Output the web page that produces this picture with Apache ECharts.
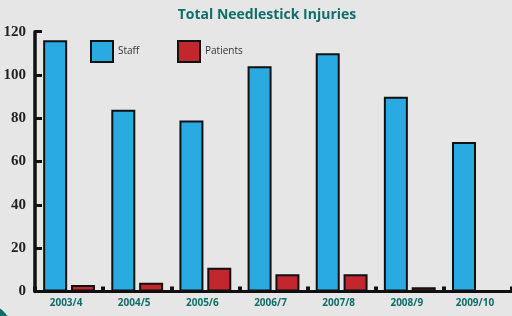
<!DOCTYPE html>
<html>
<head>
<meta charset="utf-8">
<title>Total Needlestick Injuries</title>
<script src="https://cdn.jsdelivr.net/npm/echarts@6/dist/echarts.min.js"></script>
<style>
    html, body { margin: 0; padding: 0; background: #e6e6e6; }
    #placeholder { width: 512px; height: 316px; }
</style>
</head>
<body>
<div id="placeholder"></div>
<script>
var years = ['2003/4', '2004/5', '2005/6', '2006/7', '2007/8', '2008/9', '2009/10'];
var staffData = [116, 84, 79, 104, 110, 90, 69];
var patientData = [3, 4, 11, 8, 8, 2, 0];
var yTicks = [0, 20, 40, 60, 80, 100, 120];

(function () {

    'use strict'

    var teal = '#0f6e69';
    var ink = '#111';

    var legendText = { color: '#333', fontFamily: 'Open Sans', fontSize: 10 };

    var myChart = echarts.init(document.getElementById('placeholder'));
    var option = {
        backgroundColor: '#e6e6e6',
        animation: false,
        title: {
            text: 'Total Needlestick Injuries',
            left: 262,
            textAlign: 'center',
            top: 3,
            textStyle: {
                color: teal,
                fontFamily: 'Open Sans',
                fontWeight: 'bold',
                fontSize: 14
            }
        },
        // two legends so each swatch sits where the original puts it
        legend: [{
            data: [{ name: 'Staff', icon: 'rect' }],
            left: 85,
            top: 35,
            itemWidth: 22,
            itemHeight: 21,
            textStyle: legendText
        }, {
            data: [{ name: 'Patients', icon: 'rect' }],
            left: 172,
            top: 35,
            itemWidth: 22,
            itemHeight: 21,
            textStyle: legendText
        }],
        grid: {
            left: 35,
            top: 31.7,
            bottom: 24.5,
            width: 484,
            containLabel: false
        },
        xAxis: {
            type: 'category',
            data: years,
            axisLine: { lineStyle: { color: ink, width: 3 } },
            axisTick: {
                show: true,
                inside: true,
                length: 5,
                lineStyle: { color: ink, width: 4 }
            },
            axisLabel: {
                color: teal,
                fontFamily: 'Open Sans',
                fontWeight: 'bold',
                fontSize: 10,
                margin: 7,
                interval: 0,
                padding: [0, 6, 0, 0]
            },
            splitLine: { show: false }
        },
        yAxis: {
            type: 'value',
            min: yTicks[0],
            max: yTicks[yTicks.length - 1],
            interval: 20,
            axisLine: { show: true, lineStyle: { color: ink, width: 3.5 } },
            axisTick: {
                show: true,
                inside: true,
                length: 7,
                lineStyle: { color: ink, width: 3 }
            },
            axisLabel: {
                color: '#231f20',
                fontFamily: 'Liberation Sans Narrow',
                fontWeight: 'bold',
                fontSize: 15,
                margin: 9
            },
            splitLine: { show: false }
        },
        series: [{
            name: 'Staff',
            type: 'bar',
            barWidth: 24,
            barGap: '16%',
            data: staffData,
            itemStyle: { color: '#29abe2', borderColor: ink, borderWidth: 2 }
        }, {
            name: 'Patients',
            type: 'bar',
            barWidth: 24,
            data: patientData,
            itemStyle: { color: '#c1272d', borderColor: ink, borderWidth: 2 }
        }],
        graphic: [{
            type: 'circle',
            shape: { cx: -15, cy: 331, r: 27 },
            style: { fill: '#0f6e69' },
            silent: true
        }]
    };

    myChart.setOption(option);
})();
</script>
</body>
</html>
